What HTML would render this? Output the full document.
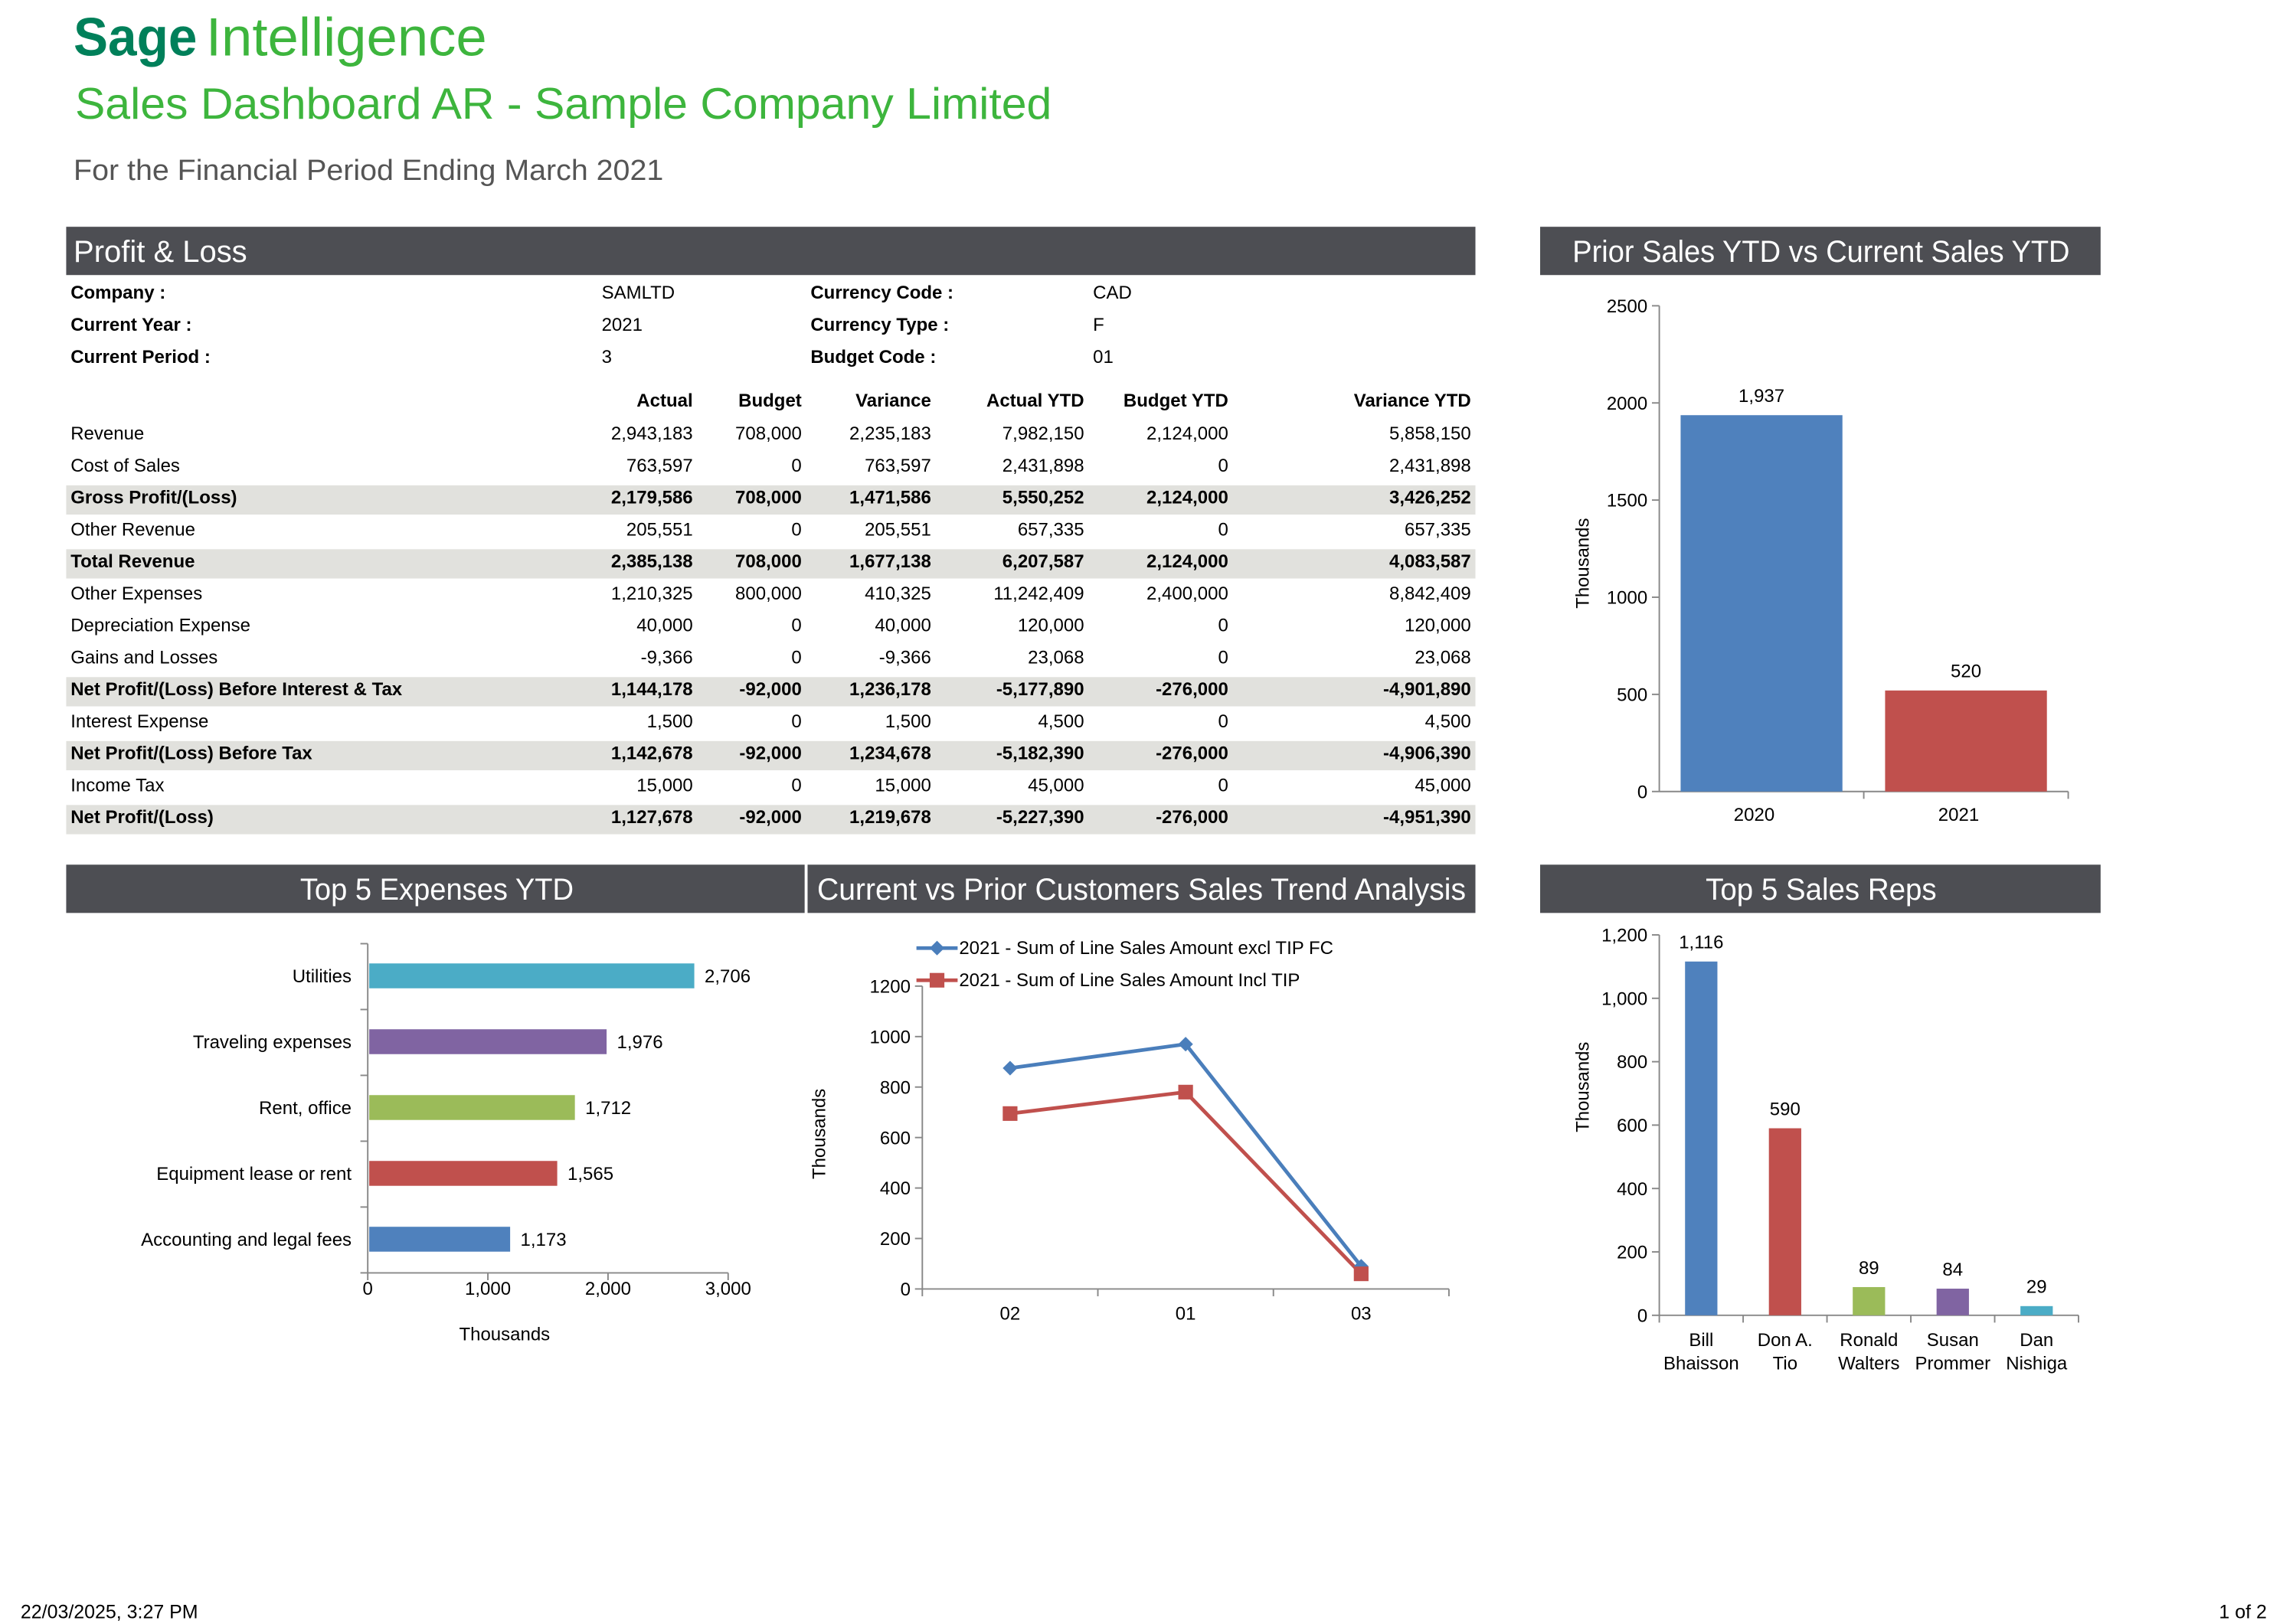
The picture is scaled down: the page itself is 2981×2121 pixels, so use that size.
<!DOCTYPE html>
<html><head><meta charset="utf-8"><style>
html,body{margin:0;padding:0;background:#fff;}
svg{display:block;font-family:"Liberation Sans",Arial,sans-serif;}
</style></head><body>
<svg id="root" width="2981" height="2121" viewBox="0 0 1552 1110" preserveAspectRatio="none" xmlns="http://www.w3.org/2000/svg">
<g>
<text x="50" y="38" font-size="37" font-weight="bold" fill="#00805a" textLength="84" lengthAdjust="spacingAndGlyphs">Sage</text>
<text x="140" y="38" font-size="37" fill="#3db53d" textLength="191" lengthAdjust="spacingAndGlyphs">Intelligence</text>
<text x="51" y="81" font-size="30" fill="#3db53d" textLength="664" lengthAdjust="spacingAndGlyphs">Sales Dashboard AR - Sample Company Limited</text>
<text x="50" y="123" font-size="20" fill="#555" textLength="401" lengthAdjust="spacingAndGlyphs">For the Financial Period Ending March 2021</text>
</g>
<g>
<rect x="45" y="155" width="958" height="33" fill="#4d4e53"/>
<text x="50" y="179" font-size="21" fill="#fff" textLength="118" lengthAdjust="spacingAndGlyphs">Profit &amp; Loss</text>
<rect x="1047" y="155" width="381" height="33" fill="#4d4e53"/>
<text x="1238" y="179" font-size="21" fill="#fff" text-anchor="middle" textLength="338" lengthAdjust="spacingAndGlyphs">Prior Sales YTD vs Current Sales YTD</text>
<rect x="45" y="591" width="502" height="33" fill="#4d4e53"/>
<text x="297" y="615" font-size="21" fill="#fff" text-anchor="middle" textLength="186" lengthAdjust="spacingAndGlyphs">Top 5 Expenses YTD</text>
<rect x="549" y="591" width="454" height="33" fill="#4d4e53"/>
<text x="776" y="615" font-size="21" fill="#fff" text-anchor="middle" textLength="441" lengthAdjust="spacingAndGlyphs">Current vs Prior Customers Sales Trend Analysis</text>
<rect x="1047" y="591" width="381" height="33" fill="#4d4e53"/>
<text x="1238" y="615" font-size="21" fill="#fff" text-anchor="middle" textLength="157" lengthAdjust="spacingAndGlyphs">Top 5 Sales Reps</text>
</g>
<g id="table" font-size="12.5" fill="#000"></g>
<g id="c1"></g>
<g id="c2"></g>
<g id="c3"></g>
<g id="c4"></g>
<text x="14" y="1106" font-size="13">22/03/2025,  3:27 PM</text>
<text x="1541" y="1106" font-size="13" text-anchor="end">1 of 2</text>
</svg>
<script>
// Chart data
const priorYears = ["2020","2021"];
const priorValues = [1937, 520];
const priorTicks = [0,500,1000,1500,2000,2500];
const expenseCats = ["Utilities","Traveling expenses","Rent, office","Equipment lease or rent","Accounting and legal fees"];
const expenseValues = [2706, 1976, 1712, 1565, 1173];
const expenseTicks = [0,1000,2000,3000];
const trendCats = ["02","01","03"];
const trendExcl = [875, 970, 90];
const trendIncl = [695, 780, 60];
const trendTicks = [0,200,400,600,800,1000,1200];
const repNames = [["Bill","Bhaisson"],["Don A.","Tio"],["Ronald","Walters"],["Susan","Prommer"],["Dan","Nishiga"]];
const repValues = [1116, 590, 89, 84, 29];
const repTicks = [0,200,400,600,800,1000,1200];

const NS="http://www.w3.org/2000/svg";
function mk(p,tag,a,txt){const e=document.createElementNS(NS,tag);for(const k in a)e.setAttribute(k,a[k]);if(txt!==undefined)e.textContent=txt;p.appendChild(e);return e;}
const fmt=v=>v.toLocaleString('en-US');

// Table
const T=document.getElementById('table');
const info=[["Company :","SAMLTD","Currency Code :","CAD"],["Current Year :","2021","Currency Type :","F"],["Current Period :","3","Budget Code :","01"]];
info.forEach((r,i)=>{const y=204+i*22;
 let e=mk(T,'text',{x:48,y:y,'font-weight':'bold'},r[0]);
 e=mk(T,'text',{x:409,y:y},r[1]);
 e=mk(T,'text',{x:551,y:y,'font-weight':'bold'},r[2]);
 e=mk(T,'text',{x:743,y:y},r[3]);
});
const colX=[471,545,633,737,835,1000];
const heads=["Actual","Budget","Variance","Actual YTD","Budget YTD","Variance YTD"];
heads.forEach((h,i)=>{const e=mk(T,'text',{x:colX[i],y:278,'text-anchor':'end','font-weight':'bold'},h);});
const rows=[
["Revenue",0,"2,943,183","708,000","2,235,183","7,982,150","2,124,000","5,858,150"],
["Cost of Sales",0,"763,597","0","763,597","2,431,898","0","2,431,898"],
["Gross Profit/(Loss)",1,"2,179,586","708,000","1,471,586","5,550,252","2,124,000","3,426,252"],
["Other Revenue",0,"205,551","0","205,551","657,335","0","657,335"],
["Total Revenue",1,"2,385,138","708,000","1,677,138","6,207,587","2,124,000","4,083,587"],
["Other Expenses",0,"1,210,325","800,000","410,325","11,242,409","2,400,000","8,842,409"],
["Depreciation Expense",0,"40,000","0","40,000","120,000","0","120,000"],
["Gains and Losses",0,"-9,366","0","-9,366","23,068","0","23,068"],
["Net Profit/(Loss) Before Interest & Tax",1,"1,144,178","-92,000","1,236,178","-5,177,890","-276,000","-4,901,890"],
["Interest Expense",0,"1,500","0","1,500","4,500","0","4,500"],
["Net Profit/(Loss) Before Tax",1,"1,142,678","-92,000","1,234,678","-5,182,390","-276,000","-4,906,390"],
["Income Tax",0,"15,000","0","15,000","45,000","0","45,000"],
["Net Profit/(Loss)",1,"1,127,678","-92,000","1,219,678","-5,227,390","-276,000","-4,951,390"]];
rows.forEach((r,i)=>{const y=300.5+i*21.85;
 const g=mk(T,'g',{});
 if(r[1])mk(g,'rect',{x:45,y:y-12.5,width:958,height:20,fill:'#e1e1dd'});
 const fw=r[1]?'bold':'normal';
 mk(g,'text',{x:48,y:y,'font-weight':fw},r[0]);
 for(let c=0;c<6;c++)mk(g,'text',{x:colX[c],y:y,'text-anchor':'end','font-weight':fw},r[c+2]);
});

function yAxis(g,x,y0,y1,ticks,maxV,lab,len){
 mk(g,'line',{x1:x,y1:y0,x2:x,y2:y1,stroke:'#888'});
 ticks.forEach(t=>{const y=y0-(t/maxV)*(y0-y1);mk(g,'line',{x1:x-5,y1:y,x2:x,y2:y,stroke:'#888'});
  const e=mk(g,'text',{x:x-8,y:y+4.5,'text-anchor':'end','font-size':12.5},lab(t));});
}
function vtitle(g,x,y){const e=mk(g,'text',{x:x,y:y,'font-size':12.5,'text-anchor':'middle',transform:`rotate(-90 ${x} ${y})`},'Thousands');}

// Chart 1
(function(){const g=document.getElementById('c1');const x0=1128,x1=1406,y0=541,y1=209,maxV=2500;
 yAxis(g,x0,y0,y1,priorTicks,maxV,t=>String(t));vtitle(g,1080,385);
 mk(g,'line',{x1:x0,y1:y0,x2:x1,y2:y0,stroke:'#888'});
 const cols=['#4f81bd','#c0504d'];const w=(x1-x0)/priorYears.length;
 priorYears.forEach((c,i)=>{const v=priorValues[i];const h=v/maxV*(y0-y1);const cx=x0+w*(i+0.5);
  const r=mk(g,'rect',{x:cx-55,y:y0-h,width:110,height:h,fill:cols[i]});
  let e=mk(g,'text',{x:cx,y:y0-h-9,'text-anchor':'middle','font-size':12.5},fmt(v));
  e=mk(g,'text',{x:cx-5,y:561,'text-anchor':'middle','font-size':12.5},c);
  mk(g,'line',{x1:x0+w*(i+1),y1:y0,x2:x0+w*(i+1),y2:y0+5,stroke:'#888'});
 });
})();

// Chart 2
(function(){const g=document.getElementById('c2');const x0=250,x1=495,yT=645,yB=870,maxV=3000;
 mk(g,'line',{x1:x0,y1:yT,x2:x0,y2:yB,stroke:'#888'});mk(g,'line',{x1:x0,y1:yB,x2:x1,y2:yB,stroke:'#888'});
 const cols=['#4bacc6','#8064a2','#9bbb59','#c0504d','#4f81bd'];const step=(yB-yT)/expenseCats.length;
 for(let i=0;i<=expenseCats.length;i++)mk(g,'line',{x1:x0-5,y1:yT+step*i,x2:x0,y2:yT+step*i,stroke:'#888'});
 expenseTicks.forEach(t=>{const x=x0+t/maxV*(x1-x0);mk(g,'line',{x1:x,y1:yB,x2:x,y2:yB+5,stroke:'#888'});
  const e=mk(g,'text',{x:x,y:885,'text-anchor':'middle','font-size':12.5},fmt(t));});
 expenseCats.forEach((c,i)=>{const cy=yT+step*(i+0.5)-0.5;const w=expenseValues[i]/maxV*(x1-x0);
  const r=mk(g,'rect',{x:x0+1,y:cy-8.5,width:w,height:17,fill:cols[i]});
  let e=mk(g,'text',{x:x0+w+8,y:cy+4.5,'font-size':12.5},fmt(expenseValues[i]));
  e=mk(g,'text',{x:239,y:cy+4.5,'text-anchor':'end','font-size':12.5},c);
 });
 const e=mk(g,'text',{x:343,y:916,'text-anchor':'middle','font-size':12.5},'Thousands');
})();

// Chart 3
(function(){const g=document.getElementById('c3');const x0=627,x1=985,y0=881,y1=674,maxV=1200;
 yAxis(g,x0,y0,y1,trendTicks,maxV,t=>String(t));vtitle(g,561,775);
 mk(g,'line',{x1:x0,y1:y0,x2:x1,y2:y0,stroke:'#888'});
 const w=(x1-x0)/trendCats.length;
 for(let i=0;i<=trendCats.length;i++)mk(g,'line',{x1:x0+w*i,y1:y0,x2:x0+w*i,y2:y0+5,stroke:'#888'});
 trendCats.forEach((c,i)=>{const e=mk(g,'text',{x:x0+w*(i+0.5),y:902,'text-anchor':'middle','font-size':12.5},c);});
 const X=i=>x0+w*(i+0.5),Y=v=>y0-v/maxV*(y0-y1);
 const s2=mk(g,'polyline',{points:trendIncl.map((v,i)=>X(i)+','+Y(v)).join(' '),fill:'none',stroke:'#c0504d','stroke-width':2.5});
 
 const s1=mk(g,'polyline',{points:trendExcl.map((v,i)=>X(i)+','+Y(v)).join(' '),fill:'none',stroke:'#4a7ebb','stroke-width':2.5});
 
 trendExcl.forEach((v,i)=>{const p=mk(g,'polygon',{points:`${X(i)},${Y(v)-5} ${X(i)+5},${Y(v)} ${X(i)},${Y(v)+5} ${X(i)-5},${Y(v)}`,fill:'#4a7ebb'});});
 trendIncl.forEach((v,i)=>{const p=mk(g,'rect',{x:X(i)-5,y:Y(v)-5,width:10,height:10,fill:'#c0504d'});});
 const l1=mk(g,'g',{});
 mk(l1,'line',{x1:623,y1:648,x2:651,y2:648,stroke:'#4a7ebb','stroke-width':2.5});mk(l1,'polygon',{points:'637,643 642,648 637,653 632,648',fill:'#4a7ebb'});
 mk(l1,'text',{x:652,y:652,'font-size':12.5},'2021 - Sum of Line Sales Amount excl TIP FC');
 const l2=mk(g,'g',{});
 mk(l2,'line',{x1:623,y1:670,x2:651,y2:670,stroke:'#c0504d','stroke-width':2.5});mk(l2,'rect',{x:632,y:665,width:10,height:10,fill:'#c0504d'});
 mk(l2,'text',{x:652,y:674,'font-size':12.5},'2021 - Sum of Line Sales Amount Incl TIP');
})();

// Chart 4
(function(){const g=document.getElementById('c4');const x0=1128,x1=1413,y0=899,y1=639,maxV=1200;
 yAxis(g,x0,y0,y1,repTicks,maxV,t=>fmt(t));vtitle(g,1080,743);
 mk(g,'line',{x1:x0,y1:y0,x2:x1,y2:y0,stroke:'#888'});
 const cols=['#4f81bd','#c0504d','#9bbb59','#8064a2','#4bacc6'];const w=(x1-x0)/repNames.length;
 for(let i=0;i<=repNames.length;i++)mk(g,'line',{x1:x0+w*i,y1:y0,x2:x0+w*i,y2:y0+5,stroke:'#888'});
 repNames.forEach((n,i)=>{const cx=x0+w*(i+0.5);const v=repValues[i];const h=v/maxV*(y0-y1);
  const r=mk(g,'rect',{x:cx-11,y:y0-h,width:22,height:h,fill:cols[i]});
  let e=mk(g,'text',{x:cx,y:y0-h-9,'text-anchor':'middle','font-size':12.5},fmt(v));
  e=mk(g,'text',{x:cx,y:920,'text-anchor':'middle','font-size':12.5},n[0]);
  e=mk(g,'text',{x:cx,y:936,'text-anchor':'middle','font-size':12.5},n[1]);
 });
})();
</script>
</body></html>
